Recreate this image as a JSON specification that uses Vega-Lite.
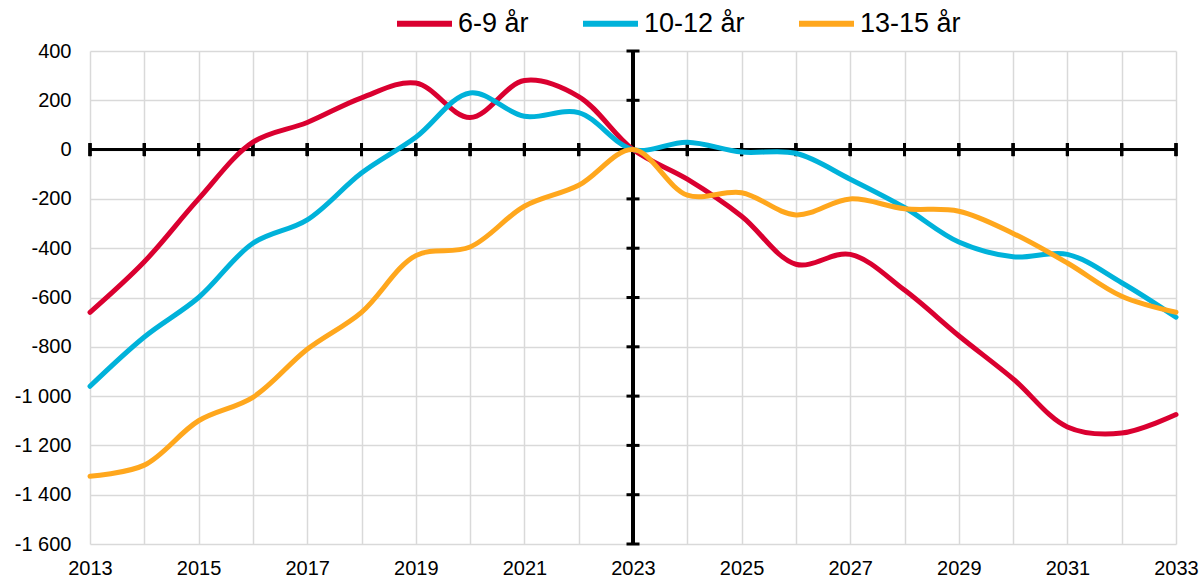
{
  "$schema": "https://vega.github.io/schema/vega-lite/v6.json",
  "autosize": {"type": "none"},
  "width": 1086,
  "height": 493,
  "padding": {"left": 90, "top": 51, "right": 26, "bottom": 35},
  "background": "white",
  "config": {
    "view": {"stroke": null},
    "font": "Liberation Sans",
    "axis": {"labelFont": "Liberation Sans", "labelFontSize": 20, "labelColor": "#000000", "grid": true, "gridColor": "#D9D9D9", "gridWidth": 1.5, "ticks": false, "domain": false, "title": null},
    "legend": {"labelFont": "Liberation Sans", "labelFontSize": 27, "labelColor": "#000000"}
  },
  "datasets": {
    "series": [
      {"year": 2013, "group": "6-9 år", "value": -660},
      {"year": 2014, "group": "6-9 år", "value": -455},
      {"year": 2015, "group": "6-9 år", "value": -200},
      {"year": 2016, "group": "6-9 år", "value": 30},
      {"year": 2017, "group": "6-9 år", "value": 110},
      {"year": 2018, "group": "6-9 år", "value": 210},
      {"year": 2019, "group": "6-9 år", "value": 270},
      {"year": 2020, "group": "6-9 år", "value": 130},
      {"year": 2021, "group": "6-9 år", "value": 280},
      {"year": 2022, "group": "6-9 år", "value": 215},
      {"year": 2023, "group": "6-9 år", "value": 0},
      {"year": 2024, "group": "6-9 år", "value": -120},
      {"year": 2025, "group": "6-9 år", "value": -270},
      {"year": 2026, "group": "6-9 år", "value": -465},
      {"year": 2027, "group": "6-9 år", "value": -425},
      {"year": 2028, "group": "6-9 år", "value": -570},
      {"year": 2029, "group": "6-9 år", "value": -755},
      {"year": 2030, "group": "6-9 år", "value": -930},
      {"year": 2031, "group": "6-9 år", "value": -1125},
      {"year": 2032, "group": "6-9 år", "value": -1150},
      {"year": 2033, "group": "6-9 år", "value": -1075},
      {"year": 2013, "group": "10-12 år", "value": -960},
      {"year": 2014, "group": "10-12 år", "value": -760},
      {"year": 2015, "group": "10-12 år", "value": -600},
      {"year": 2016, "group": "10-12 år", "value": -380},
      {"year": 2017, "group": "10-12 år", "value": -285},
      {"year": 2018, "group": "10-12 år", "value": -95},
      {"year": 2019, "group": "10-12 år", "value": 50},
      {"year": 2020, "group": "10-12 år", "value": 230},
      {"year": 2021, "group": "10-12 år", "value": 135},
      {"year": 2022, "group": "10-12 år", "value": 150},
      {"year": 2023, "group": "10-12 år", "value": 0},
      {"year": 2024, "group": "10-12 år", "value": 30},
      {"year": 2025, "group": "10-12 år", "value": -10},
      {"year": 2026, "group": "10-12 år", "value": -15},
      {"year": 2027, "group": "10-12 år", "value": -120},
      {"year": 2028, "group": "10-12 år", "value": -235},
      {"year": 2029, "group": "10-12 år", "value": -375},
      {"year": 2030, "group": "10-12 år", "value": -435},
      {"year": 2031, "group": "10-12 år", "value": -425},
      {"year": 2032, "group": "10-12 år", "value": -540},
      {"year": 2033, "group": "10-12 år", "value": -680},
      {"year": 2013, "group": "13-15 år", "value": -1325},
      {"year": 2014, "group": "13-15 år", "value": -1280},
      {"year": 2015, "group": "13-15 år", "value": -1100},
      {"year": 2016, "group": "13-15 år", "value": -1005},
      {"year": 2017, "group": "13-15 år", "value": -810},
      {"year": 2018, "group": "13-15 år", "value": -660},
      {"year": 2019, "group": "13-15 år", "value": -430},
      {"year": 2020, "group": "13-15 år", "value": -395},
      {"year": 2021, "group": "13-15 år", "value": -230},
      {"year": 2022, "group": "13-15 år", "value": -145},
      {"year": 2023, "group": "13-15 år", "value": 0},
      {"year": 2024, "group": "13-15 år", "value": -185},
      {"year": 2025, "group": "13-15 år", "value": -175},
      {"year": 2026, "group": "13-15 år", "value": -265},
      {"year": 2027, "group": "13-15 år", "value": -200},
      {"year": 2028, "group": "13-15 år", "value": -240},
      {"year": 2029, "group": "13-15 år", "value": -250},
      {"year": 2030, "group": "13-15 år", "value": -340},
      {"year": 2031, "group": "13-15 år", "value": -460},
      {"year": 2032, "group": "13-15 år", "value": -595},
      {"year": 2033, "group": "13-15 år", "value": -660}
    ],
    "yticks": [
      {"v": -1600}, {"v": -1400}, {"v": -1200}, {"v": -1000}, {"v": -800}, {"v": -600},
      {"v": -400}, {"v": -200}, {"v": 0}, {"v": 200}, {"v": 400}
    ]
  },
  "layer": [
    {
      "data": {"name": "series"},
      "mark": {"type": "rule", "color": "#000000", "strokeWidth": 3},
      "encoding": {
        "y": {"datum": 0, "type": "quantitative", "scale": {"domain": [-1600, 400], "nice": false, "zero": false},
          "axis": {"grid": true, "values": [-1600, -1400, -1200, -1000, -800, -600, -400, -200, 0, 200, 400], "labelPadding": 19,
            "labelExpr": "datum.value < 0 ? '-' + replace(format(-datum.value, ','), ',', ' ') : replace(format(datum.value, ','), ',', ' ')"}}
      }
    },
    {
      "data": {"name": "series"},
      "mark": {"type": "rule", "color": "#000000", "strokeWidth": 3},
      "encoding": {
        "x": {"datum": 2023, "type": "quantitative", "scale": {"domain": [2013, 2033], "nice": false, "zero": false},
          "axis": {"grid": true, "values": [2013, 2014, 2015, 2016, 2017, 2018, 2019, 2020, 2021, 2022, 2023, 2024, 2025, 2026, 2027, 2028, 2029, 2030, 2031, 2032, 2033],
            "labelPadding": 14, "labelFlush": false,
            "labelExpr": "(datum.value - 2013) % 2 === 0 ? '' + datum.value : ''"}}
      }
    },
    {
      "data": {"name": "series"},
      "mark": {"type": "tick", "orient": "vertical", "color": "#000000", "size": 13, "thickness": 3, "opacity": 1},
      "encoding": {
        "x": {"field": "year", "type": "quantitative"},
        "y": {"datum": 0, "type": "quantitative"}
      }
    },
    {
      "data": {"name": "yticks"},
      "mark": {"type": "tick", "orient": "horizontal", "color": "#000000", "size": 13, "thickness": 3, "opacity": 1},
      "encoding": {
        "y": {"field": "v", "type": "quantitative"},
        "x": {"datum": 2023, "type": "quantitative"}
      }
    },
    {
      "data": {"name": "series"},
      "mark": {"type": "line", "strokeWidth": 5, "interpolate": "catmull-rom", "strokeCap": "round", "strokeJoin": "round"},
      "encoding": {
        "x": {"field": "year", "type": "quantitative"},
        "y": {"field": "value", "type": "quantitative"},
        "color": {"field": "group", "type": "nominal",
          "scale": {"domain": ["6-9 år", "10-12 år", "13-15 år"], "range": ["#DA0030", "#00B2DA", "#FFA71D"]},
          "legend": {"orient": "none", "legendX": 304, "legendY": -58, "direction": "horizontal", "title": null,
            "symbolType": "stroke", "symbolSize": 3025, "symbolStrokeWidth": 6, "labelOffset": 3, "columnPadding": 42}}
      }
    }
  ]
}
